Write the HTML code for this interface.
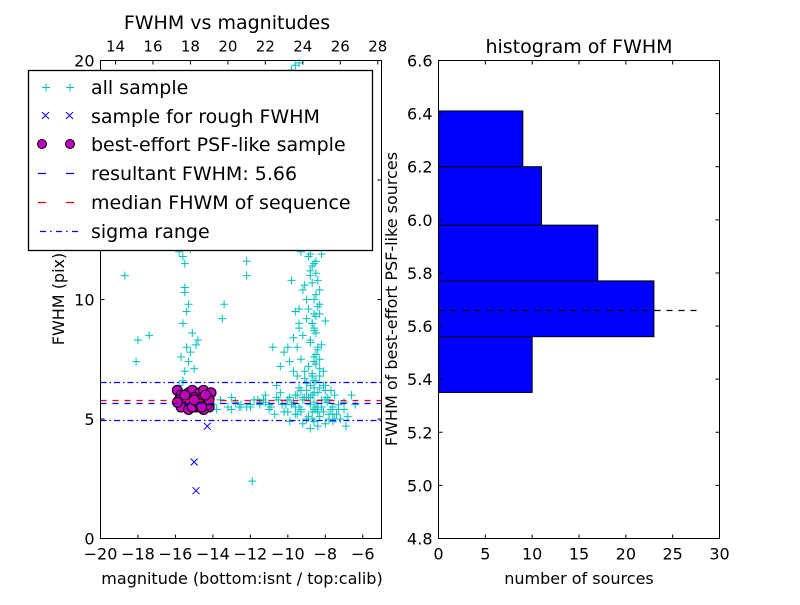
<!DOCTYPE html>
<html><head><meta charset="utf-8"><style>
body{margin:0;background:#fff;}
svg text{font-family:"DejaVu Sans","Liberation Sans",sans-serif;}
</style></head><body>
<svg id="chart" width="800" height="600" xmlns="http://www.w3.org/2000/svg">
<rect width="800" height="600" fill="#fff"/>
<g id="left"></g>
<g id="right"></g>
</svg>
<script>
const allMag=[-15.8,-15.6,-15.5,-15.3,-15.7,-15.2,-15.4,-14.9,-15.1,-15.6,-15.4,-15.3,-15.5,-15.5,-15.6,-15.8,-15.2,-18.7,-18.0,-17.4,-18.1,-13.5,-13.4,-12.2,-12.2,-15.5,-14.8,-15.0,
-9.8,-9.6,-9.4,-9.3,-9.0,-8.9,-8.7,-8.6,-8.5,-8.8,-9.1,-9.2,-8.4,-8.3,-8.9,-9.0,-8.6,-8.7,-8.5,-9.4,-9.7,-10.0,-10.2,-9.9,-8.8,-8.6,-8.4,-8.2,-8.9,-9.1,-8.7,-8.5,-8.3,-8.6,-8.8,-9.0,-9.3,-9.5,-8.1,-8.0,-7.7,-7.5,-8.9,-8.6,-8.4,-8.7,-9.2,-9.6,-10.4,-10.6,-11.2,-9.0,-8.5,-8.8,-8.3,-8.6,-9.4,-9.8,-8.7,-8.9,-8.5,-8.2,-8.0,-8.8,
-14.0,-13.6,-13.2,-12.8,-12.5,-12.2,-11.8,-11.5,-11.2,-10.9,-10.6,-10.3,-10.0,-9.7,-9.4,-9.1,-8.8,-8.5,-8.2,-7.9,-7.6,-7.3,-7.0,-13.8,-13.0,-12.0,-11.0,-10.0,-9.5,-8.6,-8.0,-7.4,-6.8,-6.4,-7.2,-8.4,-9.2,-10.4,-11.6,-12.6,-9.0,-8.7,-8.3,-7.8,-7.6,-7.0,-6.6,-11.9,-10.8,
-8.7,-8.6,-8.5,-8.4,-8.8,-8.6,-8.5,-8.7,-8.3,-8.6,-8.4,-8.5,-8.7,-8.6,-8.8,-8.4,-8.5,-8.6,-8.3,-8.7,-8.5,-8.6,-8.4,-8.8,-8.6,-8.5,-8.7,-8.3,-8.6,-8.4,
-9.6,-9.4,-9.2,-9.5,-9.3,-9.7,-9.1,-9.4,-9.6,-9.2,-9.8,-9.3,-9.5,-9.0,-9.9,
-8.0,-7.8,-8.2,-7.9,-8.1,-7.6,-8.3,-7.7,-8.0,-7.5,
-11.5,-11.0,-10.5,-10.2,-9.9,-12.5,-13.0,-12.0,-10.7,-11.3,-9.6,-9.3,-8.9,-8.1,-7.8,-7.3,-6.9,-8.4,-9.0,-10.1];
const allFwhm=[6.4,6.6,7.0,7.4,7.6,7.8,8.0,8.1,8.6,9.0,9.5,9.8,10.3,10.5,11.8,12.0,12.1,11.0,8.3,8.5,7.4,9.2,9.8,11.6,11.0,11.5,8.3,7.1,
19.6,19.8,19.9,12.0,12.5,11.8,11.4,13.0,12.2,11.0,10.6,10.4,10.8,9.8,9.6,9.2,9.4,9.0,8.6,8.8,8.4,8.0,7.8,7.4,8.2,7.6,7.9,8.1,7.2,7.0,6.8,7.3,7.5,6.6,6.4,6.5,6.2,6.8,7.0,6.4,6.2,6.0,5.9,6.1,5.4,5.0,4.8,5.2,7.2,6.4,6.0,10.0,10.2,11.2,9.4,8.8,9.6,10.8,12.8,12.4,11.6,11.9,9.1,4.6,
5.6,5.8,5.5,5.7,5.6,5.5,5.8,5.6,5.7,5.5,5.9,5.6,5.8,5.7,5.5,5.9,5.6,5.4,5.8,5.7,5.5,5.6,5.7,5.4,5.9,5.5,5.6,5.3,6.0,5.4,5.8,5.2,5.1,5.6,5.0,5.3,5.9,6.1,5.8,5.5,6.2,6.0,6.3,5.2,4.9,5.4,6.0,2.4,8.0,
13.5,13.0,12.6,12.3,11.9,11.5,11.1,10.7,10.4,10.0,9.7,9.3,9.0,8.7,8.3,8.0,7.7,7.4,7.1,6.9,6.6,6.3,6.1,5.9,5.7,5.5,5.3,5.1,4.9,4.7,
9.5,9.0,8.5,8.0,7.5,7.0,6.7,6.3,6.0,5.8,5.6,5.4,5.2,5.0,4.9,
6.2,5.8,5.5,5.9,6.4,5.2,6.8,5.4,4.8,5.0,
5.7,5.4,5.8,5.3,5.9,5.5,5.4,5.6,5.2,5.8,5.5,5.3,5.1,5.3,5.0,5.4,4.7,5.5,5.9,5.6];
const bestMag=[-15.9,-15.7,-15.5,-15.3,-15.1,-14.9,-14.7,-14.5,-14.3,-14.1,-15.8,-15.6,-15.4,-15.2,-15.0,-14.8,-14.6,-14.4,-14.2,-15.7,-15.3,-14.9,-14.5,-14.3,-15.5,-15.1,-14.7,-14.2,-15.9,-14.4,-15.0,-14.6];
const bestFwhm=[6.2,6.0,5.8,6.1,6.2,5.9,6.1,6.2,5.9,6.1,5.8,5.6,5.5,5.7,5.9,5.6,5.8,5.7,5.5,5.5,5.4,5.5,5.4,5.6,6.0,5.5,5.6,5.8,5.7,6.0,5.8,5.5];
const roughMag=[-14.3,-15.0,-14.9,-14.6,-15.2];
const roughFwhm=[4.7,3.2,2.0,5.6,5.8];
const resultFwhm=5.66, medianFwhm=5.78, sigmaHi=6.55, sigmaLo=4.97;
const binEdges=[5.35,5.56,5.77,5.98,6.20,6.41];
const binCounts=[10,23,17,11,9];
const xTicksBottom=[-20,-18,-16,-14,-12,-10,-8,-6];
const xTicksTop=[14,16,18,20,22,24,26,28];
const yTicksLeft=[0,5,10,15,20];
const histXTicks=[0,5,10,15,20,25,30];
const histYTicks=[4.8,5.0,5.2,5.4,5.6,5.8,6.0,6.2,6.4,6.6];

const NS="http://www.w3.org/2000/svg";
function mk(p,t,a){const e=document.createElementNS(NS,t);for(const k in a)e.setAttribute(k,a[k]);p.appendChild(e);return e;}
const L=document.getElementById('left'),R=document.getElementById('right');
const lx0=100.5,lx1=381.5,ly0=60.5,ly1=538.5;
const sx=m=>lx0+(m+20)/15*(lx1-lx0);
const sy=f=>ly1-f/20*(ly1-ly0);
const stx=c=>sx(c-33.2);
for(let i=0;i<allMag.length;i++){
  const x=sx(allMag[i]),y=sy(allFwhm[i]);
  const g=mk(L,'path',{d:`M${x-4} ${y}h8M${x} ${y-4}v8`,stroke:'#00bfbf','stroke-width':1});
  
  
}
for(let i=0;i<roughMag.length;i++){
  const x=sx(roughMag[i]),y=sy(roughFwhm[i]);
  const g=mk(L,'path',{d:`M${x-3.5} ${y-3.5}l7 7M${x-3.5} ${y+3.5}l7 -7`,stroke:'#0000ff','stroke-width':1});
  
  
}
for(let i=0;i<bestMag.length;i++){
  const c=mk(L,'circle',{cx:sx(bestMag[i]),cy:sy(bestFwhm[i]),r:5,fill:'#bf00bf',stroke:'#000','stroke-width':1});
  
  
}
function hline(v,col,dash,name){const y=Math.round(sy(v))+0.5;const l=mk(L,'line',{x1:lx0,x2:lx1,y1:y,y2:y,stroke:col,'stroke-width':1.3,'stroke-dasharray':dash});
  
  }
hline(medianFwhm,'#ff0000','6 6','median-line');
hline(resultFwhm,'#0000ff','6 6','resultant-fwhm-line');
hline(sigmaHi,'#0000ff','6 3 1.5 3','sigma-upper-line');
hline(sigmaLo,'#0000ff','6 3 1.5 3','sigma-lower-line');
mk(L,'rect',{x:lx0,y:ly0,width:lx1-lx0,height:ly1-ly0,fill:'none',stroke:'#000','stroke-width':1});
xTicksBottom.forEach(t=>{const x=sx(t);mk(L,'path',{d:`M${x} ${ly1}v-4`,stroke:'#000'});
  const tx=mk(L,'text',{x:x,y:ly1+21,'text-anchor':'middle','font-size':16});tx.textContent=(t<0?'\u2212'+(-t):t);
  
  });
xTicksTop.forEach(t=>{const x=stx(t);mk(L,'path',{d:`M${x} ${ly0}v4`,stroke:'#000'});
  const tx=mk(L,'text',{x:x,y:ly0-9,'text-anchor':'middle','font-size':15});tx.textContent=t;
  
  });
yTicksLeft.forEach(t=>{const y=sy(t);mk(L,'path',{d:`M${lx0} ${y}h4M${lx1} ${y}h-4`,stroke:'#000'});
  const tx=mk(L,'text',{x:lx0-6,y:y+6,'text-anchor':'end','font-size':16});tx.textContent=t;
  
  });
const rx0=438.5,rx1=719.5,ry0=60.5,ry1=538.5;
const hx=c=>rx0+c/30*(rx1-rx0);
const hy=v=>ry1-(v-4.8)/1.8*(ry1-ry0);
for(let i=0;i<binCounts.length;i++){
  const b=mk(R,'rect',{x:rx0,y:hy(binEdges[i+1]),width:hx(binCounts[i])-rx0,height:hy(binEdges[i])-hy(binEdges[i+1]),fill:'#0000ff',stroke:'#000','stroke-width':1});
  
  
}
const dyy=Math.round(hy(resultFwhm))+0.5;
const dl=mk(R,'line',{x1:rx0,x2:hx(28),y1:dyy,y2:dyy,stroke:'#000','stroke-width':1.3,'stroke-dasharray':'6 6'});


mk(R,'rect',{x:rx0,y:ry0,width:rx1-rx0,height:ry1-ry0,fill:'none',stroke:'#000'});
histXTicks.forEach(t=>{const x=hx(t);mk(R,'path',{d:`M${x} ${ry1}v-4M${x} ${ry0}v4`,stroke:'#000'});
  const tx=mk(R,'text',{x:x,y:ry1+21,'text-anchor':'middle','font-size':16});tx.textContent=t;
  
  });
histYTicks.forEach(t=>{const y=hy(t);mk(R,'path',{d:`M${rx0} ${y}h4M${rx1} ${y}h-4`,stroke:'#000'});
  const tx=mk(R,'text',{x:rx0-6,y:y+6,'text-anchor':'end','font-size':16});tx.textContent=t.toFixed(1);
  
  });
</script>
<svg width="800" height="600" style="position:absolute;left:0;top:0" xmlns="http://www.w3.org/2000/svg">
<text x="227" y="29" text-anchor="middle" font-size="19">FWHM vs magnitudes</text>
<text x="579" y="53" text-anchor="middle" font-size="19">histogram of FWHM</text>
<text x="242" y="584" text-anchor="middle" font-size="16">magnitude (bottom:isnt / top:calib)</text>
<text x="579" y="584" text-anchor="middle" font-size="16">number of sources</text>
<text transform="translate(64,299) rotate(-90)" text-anchor="middle" font-size="16">FWHM (pix)</text>
<text transform="translate(397,299) rotate(-90)" text-anchor="middle" font-size="16">FWHM of best-effort PSF-like sources</text>
<g>
<rect x="28.5" y="70.5" width="344" height="180" fill="#fff" stroke="#000" stroke-width="1.3"/>
<path d="M42 87.5h8M46 83.5v8M66 87.5h8M70 83.5v8" stroke="#00bfbf"/>
<text x="91" y="94" font-size="19">all sample</text>
<path d="M42 112l7 7M42 119l7-7M66 112l7 7M66 119l7-7" stroke="#0000ff"/>
<text x="91" y="123" font-size="19">sample for rough FWHM</text>
<circle cx="42" cy="144" r="4.5" fill="#bf00bf" stroke="#000"/><circle cx="70" cy="144" r="4.5" fill="#bf00bf" stroke="#000"/>
<text x="91" y="151" font-size="19">best-effort PSF-like sample</text>
<path d="M38 173.5h8M66 173.5h8" stroke="#0000ff" stroke-width="1.3"/>
<text x="91" y="180" font-size="19">resultant FWHM: 5.66</text>
<path d="M38 202.5h8M66 202.5h8" stroke="#ff0000" stroke-width="1.3"/>
<text x="91" y="209" font-size="19">median FHWM of sequence</text>
<path d="M40 231.5h6M50 231.5h1.5M56 231.5h6M66 231.5h1.5M72 231.5h6" stroke="#0000ff" stroke-width="1.3"/>
<text x="91" y="238" font-size="19">sigma range</text>
</g>
</svg>
</body></html>
